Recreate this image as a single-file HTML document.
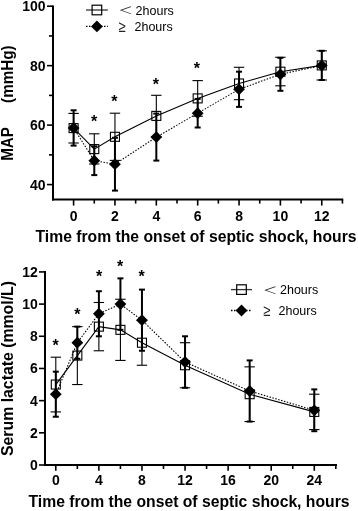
<!DOCTYPE html>
<html><head><meta charset="utf-8"><title>MAP and serum lactate</title>
<style>html,body{margin:0;padding:0;background:#fff;width:358px;height:511px;overflow:hidden}svg{display:block}</style>
</head><body>
<svg width="358" height="511" viewBox="0 0 358 511" font-family="&quot;Liberation Sans&quot;, Arial, Helvetica, sans-serif"><line x1="53.00" y1="5.40" x2="53.00" y2="200.40" stroke="#000" stroke-width="2.0" />
<line x1="52.00" y1="199.40" x2="343.20" y2="199.40" stroke="#000" stroke-width="2.0" />
<line x1="47.00" y1="6.20" x2="53.00" y2="6.20" stroke="#000" stroke-width="1.6" />
<text x="45.60" y="11.20" font-size="14" font-weight="bold" text-anchor="end" >100</text>
<line x1="47.00" y1="65.66" x2="53.00" y2="65.66" stroke="#000" stroke-width="1.6" />
<text x="45.60" y="70.66" font-size="14" font-weight="bold" text-anchor="end" >80</text>
<line x1="47.00" y1="125.12" x2="53.00" y2="125.12" stroke="#000" stroke-width="1.6" />
<text x="45.60" y="130.12" font-size="14" font-weight="bold" text-anchor="end" >60</text>
<line x1="47.00" y1="184.58" x2="53.00" y2="184.58" stroke="#000" stroke-width="1.6" />
<text x="45.60" y="189.58" font-size="14" font-weight="bold" text-anchor="end" >40</text>
<line x1="49.00" y1="35.93" x2="53.00" y2="35.93" stroke="#000" stroke-width="1.6" />
<line x1="49.00" y1="95.39" x2="53.00" y2="95.39" stroke="#000" stroke-width="1.6" />
<line x1="49.00" y1="154.85" x2="53.00" y2="154.85" stroke="#000" stroke-width="1.6" />
<line x1="73.60" y1="199.40" x2="73.60" y2="205.60" stroke="#000" stroke-width="1.6" />
<text x="73.60" y="220.60" font-size="14" font-weight="bold" text-anchor="middle" >0</text>
<line x1="94.28" y1="199.40" x2="94.28" y2="203.60" stroke="#000" stroke-width="1.6" />
<line x1="114.96" y1="199.40" x2="114.96" y2="205.60" stroke="#000" stroke-width="1.6" />
<text x="114.96" y="220.60" font-size="14" font-weight="bold" text-anchor="middle" >2</text>
<line x1="135.64" y1="199.40" x2="135.64" y2="203.60" stroke="#000" stroke-width="1.6" />
<line x1="156.32" y1="199.40" x2="156.32" y2="205.60" stroke="#000" stroke-width="1.6" />
<text x="156.32" y="220.60" font-size="14" font-weight="bold" text-anchor="middle" >4</text>
<line x1="177.00" y1="199.40" x2="177.00" y2="203.60" stroke="#000" stroke-width="1.6" />
<line x1="197.68" y1="199.40" x2="197.68" y2="205.60" stroke="#000" stroke-width="1.6" />
<text x="197.68" y="220.60" font-size="14" font-weight="bold" text-anchor="middle" >6</text>
<line x1="218.36" y1="199.40" x2="218.36" y2="203.60" stroke="#000" stroke-width="1.6" />
<line x1="239.04" y1="199.40" x2="239.04" y2="205.60" stroke="#000" stroke-width="1.6" />
<text x="239.04" y="220.60" font-size="14" font-weight="bold" text-anchor="middle" >8</text>
<line x1="259.72" y1="199.40" x2="259.72" y2="203.60" stroke="#000" stroke-width="1.6" />
<line x1="280.40" y1="199.40" x2="280.40" y2="205.60" stroke="#000" stroke-width="1.6" />
<text x="280.40" y="220.60" font-size="14" font-weight="bold" text-anchor="middle" >10</text>
<line x1="301.08" y1="199.40" x2="301.08" y2="203.60" stroke="#000" stroke-width="1.6" />
<line x1="321.76" y1="199.40" x2="321.76" y2="205.60" stroke="#000" stroke-width="1.6" />
<text x="321.76" y="220.60" font-size="14" font-weight="bold" text-anchor="middle" >12</text>
<line x1="342.44" y1="199.40" x2="342.44" y2="203.60" stroke="#000" stroke-width="1.6" />
<line x1="45.00" y1="271.12" x2="45.00" y2="466.00" stroke="#000" stroke-width="2.0" />
<line x1="44.00" y1="465.00" x2="337.00" y2="465.00" stroke="#000" stroke-width="2.0" />
<line x1="39.00" y1="465.00" x2="45.00" y2="465.00" stroke="#000" stroke-width="1.6" />
<text x="37.90" y="470.00" font-size="14" font-weight="bold" text-anchor="end" >0</text>
<line x1="39.00" y1="432.82" x2="45.00" y2="432.82" stroke="#000" stroke-width="1.6" />
<text x="37.90" y="437.82" font-size="14" font-weight="bold" text-anchor="end" >2</text>
<line x1="39.00" y1="400.64" x2="45.00" y2="400.64" stroke="#000" stroke-width="1.6" />
<text x="37.90" y="405.64" font-size="14" font-weight="bold" text-anchor="end" >4</text>
<line x1="39.00" y1="368.46" x2="45.00" y2="368.46" stroke="#000" stroke-width="1.6" />
<text x="37.90" y="373.46" font-size="14" font-weight="bold" text-anchor="end" >6</text>
<line x1="39.00" y1="336.28" x2="45.00" y2="336.28" stroke="#000" stroke-width="1.6" />
<text x="37.90" y="341.28" font-size="14" font-weight="bold" text-anchor="end" >8</text>
<line x1="39.00" y1="304.10" x2="45.00" y2="304.10" stroke="#000" stroke-width="1.6" />
<text x="37.90" y="309.10" font-size="14" font-weight="bold" text-anchor="end" >10</text>
<line x1="39.00" y1="271.92" x2="45.00" y2="271.92" stroke="#000" stroke-width="1.6" />
<text x="37.90" y="276.92" font-size="14" font-weight="bold" text-anchor="end" >12</text>
<line x1="55.80" y1="465.00" x2="55.80" y2="470.80" stroke="#000" stroke-width="1.6" />
<text x="55.80" y="485.10" font-size="14" font-weight="bold" text-anchor="middle" >0</text>
<line x1="77.34" y1="465.00" x2="77.34" y2="469.00" stroke="#000" stroke-width="1.6" />
<line x1="98.88" y1="465.00" x2="98.88" y2="470.80" stroke="#000" stroke-width="1.6" />
<text x="98.88" y="485.10" font-size="14" font-weight="bold" text-anchor="middle" >4</text>
<line x1="120.42" y1="465.00" x2="120.42" y2="469.00" stroke="#000" stroke-width="1.6" />
<line x1="141.96" y1="465.00" x2="141.96" y2="470.80" stroke="#000" stroke-width="1.6" />
<text x="141.96" y="485.10" font-size="14" font-weight="bold" text-anchor="middle" >8</text>
<line x1="163.50" y1="465.00" x2="163.50" y2="469.00" stroke="#000" stroke-width="1.6" />
<line x1="185.04" y1="465.00" x2="185.04" y2="470.80" stroke="#000" stroke-width="1.6" />
<text x="185.04" y="485.10" font-size="14" font-weight="bold" text-anchor="middle" >12</text>
<line x1="206.58" y1="465.00" x2="206.58" y2="469.00" stroke="#000" stroke-width="1.6" />
<line x1="228.12" y1="465.00" x2="228.12" y2="470.80" stroke="#000" stroke-width="1.6" />
<text x="228.12" y="485.10" font-size="14" font-weight="bold" text-anchor="middle" >16</text>
<line x1="249.66" y1="465.00" x2="249.66" y2="469.00" stroke="#000" stroke-width="1.6" />
<line x1="271.20" y1="465.00" x2="271.20" y2="470.80" stroke="#000" stroke-width="1.6" />
<text x="271.20" y="485.10" font-size="14" font-weight="bold" text-anchor="middle" >20</text>
<line x1="292.74" y1="465.00" x2="292.74" y2="469.00" stroke="#000" stroke-width="1.6" />
<line x1="314.28" y1="465.00" x2="314.28" y2="470.80" stroke="#000" stroke-width="1.6" />
<text x="314.28" y="485.10" font-size="14" font-weight="bold" text-anchor="middle" >24</text>
<line x1="335.82" y1="465.00" x2="335.82" y2="469.00" stroke="#000" stroke-width="1.6" />
<text x="35.50" y="241.50" font-size="15.6" font-weight="bold" text-anchor="start" textLength="321" lengthAdjust="spacingAndGlyphs">Time from the onset of septic shock, hours</text>
<text x="28.50" y="506.90" font-size="15.6" font-weight="bold" text-anchor="start" textLength="321" lengthAdjust="spacingAndGlyphs">Time from the onset of septic shock, hours</text>
<text transform="translate(12.9,160.8) rotate(-90) scale(1,1.07)" font-size="15.2" font-weight="bold">MAP</text>
<text transform="translate(12.9,102.9) rotate(-90) scale(1,1.07)" font-size="15.2" font-weight="bold">(mmHg)</text>
<text transform="translate(12.7,456.0) rotate(-90)" font-size="15.6" font-weight="bold" textLength="175" lengthAdjust="spacingAndGlyphs">Serum lactate (mmol/L)</text>
<path d="M73.60 128.10L94.28 149.10L114.96 136.80L156.32 115.90L197.68 98.40L239.04 83.50L280.40 71.70L321.76 65.40" fill="none" stroke="#000" stroke-width="1.1"/>
<path d="M73.60 128.00L94.28 160.70L114.96 164.20L156.32 137.10L197.68 113.20L239.04 89.30L280.40 74.30L321.76 65.50" fill="none" stroke="#000" stroke-width="1.1" stroke-dasharray="1.5 1.5"/>
<line x1="73.60" y1="113.40" x2="73.60" y2="143.00" stroke="#000" stroke-width="1.1" />
<line x1="68.40" y1="113.40" x2="78.80" y2="113.40" stroke="#000" stroke-width="1.1" />
<line x1="68.40" y1="143.00" x2="78.80" y2="143.00" stroke="#000" stroke-width="1.1" />
<line x1="94.28" y1="133.80" x2="94.28" y2="164.00" stroke="#000" stroke-width="1.1" />
<line x1="89.08" y1="133.80" x2="99.48" y2="133.80" stroke="#000" stroke-width="1.1" />
<line x1="89.08" y1="164.00" x2="99.48" y2="164.00" stroke="#000" stroke-width="1.1" />
<line x1="114.96" y1="113.20" x2="114.96" y2="160.40" stroke="#000" stroke-width="1.1" />
<line x1="109.76" y1="113.20" x2="120.16" y2="113.20" stroke="#000" stroke-width="1.1" />
<line x1="109.76" y1="160.40" x2="120.16" y2="160.40" stroke="#000" stroke-width="1.1" />
<line x1="156.32" y1="95.30" x2="156.32" y2="136.80" stroke="#000" stroke-width="1.1" />
<line x1="151.12" y1="95.30" x2="161.52" y2="95.30" stroke="#000" stroke-width="1.1" />
<line x1="151.12" y1="136.80" x2="161.52" y2="136.80" stroke="#000" stroke-width="1.1" />
<line x1="197.68" y1="80.60" x2="197.68" y2="116.20" stroke="#000" stroke-width="1.1" />
<line x1="192.48" y1="80.60" x2="202.88" y2="80.60" stroke="#000" stroke-width="1.1" />
<line x1="192.48" y1="116.20" x2="202.88" y2="116.20" stroke="#000" stroke-width="1.1" />
<line x1="239.04" y1="67.30" x2="239.04" y2="99.70" stroke="#000" stroke-width="1.1" />
<line x1="233.84" y1="67.30" x2="244.24" y2="67.30" stroke="#000" stroke-width="1.1" />
<line x1="233.84" y1="99.70" x2="244.24" y2="99.70" stroke="#000" stroke-width="1.1" />
<line x1="280.40" y1="57.30" x2="280.40" y2="85.80" stroke="#000" stroke-width="1.1" />
<line x1="275.20" y1="57.30" x2="285.60" y2="57.30" stroke="#000" stroke-width="1.1" />
<line x1="275.20" y1="85.80" x2="285.60" y2="85.80" stroke="#000" stroke-width="1.1" />
<line x1="321.76" y1="50.80" x2="321.76" y2="80.00" stroke="#000" stroke-width="1.1" />
<line x1="316.56" y1="50.80" x2="326.96" y2="50.80" stroke="#000" stroke-width="1.1" />
<line x1="316.56" y1="80.00" x2="326.96" y2="80.00" stroke="#000" stroke-width="1.1" />
<line x1="73.60" y1="110.30" x2="73.60" y2="145.60" stroke="#000" stroke-width="2.0" />
<line x1="70.60" y1="110.30" x2="76.60" y2="110.30" stroke="#000" stroke-width="2.0" />
<line x1="70.60" y1="145.60" x2="76.60" y2="145.60" stroke="#000" stroke-width="2.0" />
<line x1="94.28" y1="146.30" x2="94.28" y2="175.10" stroke="#000" stroke-width="2.0" />
<line x1="91.28" y1="146.30" x2="97.28" y2="146.30" stroke="#000" stroke-width="2.0" />
<line x1="91.28" y1="175.10" x2="97.28" y2="175.10" stroke="#000" stroke-width="2.0" />
<line x1="114.96" y1="137.80" x2="114.96" y2="190.60" stroke="#000" stroke-width="2.0" />
<line x1="111.96" y1="137.80" x2="117.96" y2="137.80" stroke="#000" stroke-width="2.0" />
<line x1="111.96" y1="190.60" x2="117.96" y2="190.60" stroke="#000" stroke-width="2.0" />
<line x1="156.32" y1="113.60" x2="156.32" y2="160.60" stroke="#000" stroke-width="2.0" />
<line x1="153.32" y1="113.60" x2="159.32" y2="113.60" stroke="#000" stroke-width="2.0" />
<line x1="153.32" y1="160.60" x2="159.32" y2="160.60" stroke="#000" stroke-width="2.0" />
<line x1="197.68" y1="98.90" x2="197.68" y2="127.50" stroke="#000" stroke-width="2.0" />
<line x1="194.68" y1="98.90" x2="200.68" y2="98.90" stroke="#000" stroke-width="2.0" />
<line x1="194.68" y1="127.50" x2="200.68" y2="127.50" stroke="#000" stroke-width="2.0" />
<line x1="239.04" y1="71.70" x2="239.04" y2="106.90" stroke="#000" stroke-width="2.0" />
<line x1="236.04" y1="71.70" x2="242.04" y2="71.70" stroke="#000" stroke-width="2.0" />
<line x1="236.04" y1="106.90" x2="242.04" y2="106.90" stroke="#000" stroke-width="2.0" />
<line x1="280.40" y1="57.80" x2="280.40" y2="90.80" stroke="#000" stroke-width="2.0" />
<line x1="277.40" y1="57.80" x2="283.40" y2="57.80" stroke="#000" stroke-width="2.0" />
<line x1="277.40" y1="90.80" x2="283.40" y2="90.80" stroke="#000" stroke-width="2.0" />
<line x1="321.76" y1="50.80" x2="321.76" y2="80.00" stroke="#000" stroke-width="2.0" />
<line x1="318.76" y1="50.80" x2="324.76" y2="50.80" stroke="#000" stroke-width="2.0" />
<line x1="318.76" y1="80.00" x2="324.76" y2="80.00" stroke="#000" stroke-width="2.0" />
<rect x="69.10" y="123.60" width="9.0" height="9.0" fill="none" stroke="#000" stroke-width="1.1"/>
<rect x="89.78" y="144.60" width="9.0" height="9.0" fill="none" stroke="#000" stroke-width="1.1"/>
<rect x="110.46" y="132.30" width="9.0" height="9.0" fill="none" stroke="#000" stroke-width="1.1"/>
<rect x="151.82" y="111.40" width="9.0" height="9.0" fill="none" stroke="#000" stroke-width="1.1"/>
<rect x="193.18" y="93.90" width="9.0" height="9.0" fill="none" stroke="#000" stroke-width="1.1"/>
<rect x="234.54" y="79.00" width="9.0" height="9.0" fill="none" stroke="#000" stroke-width="1.1"/>
<rect x="275.90" y="67.20" width="9.0" height="9.0" fill="none" stroke="#000" stroke-width="1.1"/>
<rect x="317.26" y="60.90" width="9.0" height="9.0" fill="none" stroke="#000" stroke-width="1.1"/>
<path d="M73.60 122.10L79.50 128.00L73.60 133.90L67.70 128.00Z" fill="#000"/>
<path d="M94.28 154.80L100.18 160.70L94.28 166.60L88.38 160.70Z" fill="#000"/>
<path d="M114.96 158.30L120.86 164.20L114.96 170.10L109.06 164.20Z" fill="#000"/>
<path d="M156.32 131.20L162.22 137.10L156.32 143.00L150.42 137.10Z" fill="#000"/>
<path d="M197.68 107.30L203.58 113.20L197.68 119.10L191.78 113.20Z" fill="#000"/>
<path d="M239.04 83.40L244.94 89.30L239.04 95.20L233.14 89.30Z" fill="#000"/>
<path d="M280.40 68.40L286.30 74.30L280.40 80.20L274.50 74.30Z" fill="#000"/>
<path d="M321.76 59.60L327.66 65.50L321.76 71.40L315.86 65.50Z" fill="#000"/>
<path d="M55.80 384.55L77.34 355.59L98.88 326.63L120.42 329.84L141.96 342.72L185.04 365.24L249.66 394.20L314.28 411.90" fill="none" stroke="#000" stroke-width="1.1"/>
<path d="M55.80 394.20L77.34 342.72L98.88 313.75L120.42 304.10L141.96 320.19L185.04 362.02L249.66 390.99L314.28 410.29" fill="none" stroke="#000" stroke-width="1.1" stroke-dasharray="1.5 1.5"/>
<line x1="55.80" y1="357.20" x2="55.80" y2="411.90" stroke="#000" stroke-width="1.1" />
<line x1="50.60" y1="357.20" x2="61.00" y2="357.20" stroke="#000" stroke-width="1.1" />
<line x1="50.60" y1="411.90" x2="61.00" y2="411.90" stroke="#000" stroke-width="1.1" />
<line x1="77.34" y1="326.63" x2="77.34" y2="384.55" stroke="#000" stroke-width="1.1" />
<line x1="72.14" y1="326.63" x2="82.54" y2="326.63" stroke="#000" stroke-width="1.1" />
<line x1="72.14" y1="384.55" x2="82.54" y2="384.55" stroke="#000" stroke-width="1.1" />
<line x1="98.88" y1="302.49" x2="98.88" y2="350.76" stroke="#000" stroke-width="1.1" />
<line x1="93.68" y1="302.49" x2="104.08" y2="302.49" stroke="#000" stroke-width="1.1" />
<line x1="93.68" y1="350.76" x2="104.08" y2="350.76" stroke="#000" stroke-width="1.1" />
<line x1="120.42" y1="299.27" x2="120.42" y2="360.42" stroke="#000" stroke-width="1.1" />
<line x1="115.22" y1="299.27" x2="125.62" y2="299.27" stroke="#000" stroke-width="1.1" />
<line x1="115.22" y1="360.42" x2="125.62" y2="360.42" stroke="#000" stroke-width="1.1" />
<line x1="141.96" y1="320.19" x2="141.96" y2="365.24" stroke="#000" stroke-width="1.1" />
<line x1="136.76" y1="320.19" x2="147.16" y2="320.19" stroke="#000" stroke-width="1.1" />
<line x1="136.76" y1="365.24" x2="147.16" y2="365.24" stroke="#000" stroke-width="1.1" />
<line x1="185.04" y1="342.72" x2="185.04" y2="387.77" stroke="#000" stroke-width="1.1" />
<line x1="179.84" y1="342.72" x2="190.24" y2="342.72" stroke="#000" stroke-width="1.1" />
<line x1="179.84" y1="387.77" x2="190.24" y2="387.77" stroke="#000" stroke-width="1.1" />
<line x1="249.66" y1="366.85" x2="249.66" y2="421.56" stroke="#000" stroke-width="1.1" />
<line x1="244.46" y1="366.85" x2="254.86" y2="366.85" stroke="#000" stroke-width="1.1" />
<line x1="244.46" y1="421.56" x2="254.86" y2="421.56" stroke="#000" stroke-width="1.1" />
<line x1="314.28" y1="394.20" x2="314.28" y2="429.60" stroke="#000" stroke-width="1.1" />
<line x1="309.08" y1="394.20" x2="319.48" y2="394.20" stroke="#000" stroke-width="1.1" />
<line x1="309.08" y1="429.60" x2="319.48" y2="429.60" stroke="#000" stroke-width="1.1" />
<line x1="55.80" y1="371.68" x2="55.80" y2="416.73" stroke="#000" stroke-width="2.0" />
<line x1="52.80" y1="371.68" x2="58.80" y2="371.68" stroke="#000" stroke-width="2.0" />
<line x1="52.80" y1="416.73" x2="58.80" y2="416.73" stroke="#000" stroke-width="2.0" />
<line x1="77.34" y1="326.63" x2="77.34" y2="358.81" stroke="#000" stroke-width="2.0" />
<line x1="74.34" y1="326.63" x2="80.34" y2="326.63" stroke="#000" stroke-width="2.0" />
<line x1="74.34" y1="358.81" x2="80.34" y2="358.81" stroke="#000" stroke-width="2.0" />
<line x1="98.88" y1="291.23" x2="98.88" y2="336.28" stroke="#000" stroke-width="2.0" />
<line x1="95.88" y1="291.23" x2="101.88" y2="291.23" stroke="#000" stroke-width="2.0" />
<line x1="95.88" y1="336.28" x2="101.88" y2="336.28" stroke="#000" stroke-width="2.0" />
<line x1="120.42" y1="278.36" x2="120.42" y2="329.84" stroke="#000" stroke-width="2.0" />
<line x1="117.42" y1="278.36" x2="123.42" y2="278.36" stroke="#000" stroke-width="2.0" />
<line x1="117.42" y1="329.84" x2="123.42" y2="329.84" stroke="#000" stroke-width="2.0" />
<line x1="141.96" y1="289.62" x2="141.96" y2="350.76" stroke="#000" stroke-width="2.0" />
<line x1="138.96" y1="289.62" x2="144.96" y2="289.62" stroke="#000" stroke-width="2.0" />
<line x1="138.96" y1="350.76" x2="144.96" y2="350.76" stroke="#000" stroke-width="2.0" />
<line x1="185.04" y1="336.28" x2="185.04" y2="387.77" stroke="#000" stroke-width="2.0" />
<line x1="182.04" y1="336.28" x2="188.04" y2="336.28" stroke="#000" stroke-width="2.0" />
<line x1="182.04" y1="387.77" x2="188.04" y2="387.77" stroke="#000" stroke-width="2.0" />
<line x1="249.66" y1="360.42" x2="249.66" y2="421.56" stroke="#000" stroke-width="2.0" />
<line x1="246.66" y1="360.42" x2="252.66" y2="360.42" stroke="#000" stroke-width="2.0" />
<line x1="246.66" y1="421.56" x2="252.66" y2="421.56" stroke="#000" stroke-width="2.0" />
<line x1="314.28" y1="389.38" x2="314.28" y2="431.21" stroke="#000" stroke-width="2.0" />
<line x1="311.28" y1="389.38" x2="317.28" y2="389.38" stroke="#000" stroke-width="2.0" />
<line x1="311.28" y1="431.21" x2="317.28" y2="431.21" stroke="#000" stroke-width="2.0" />
<rect x="51.30" y="380.05" width="9.0" height="9.0" fill="none" stroke="#000" stroke-width="1.1"/>
<rect x="72.84" y="351.09" width="9.0" height="9.0" fill="none" stroke="#000" stroke-width="1.1"/>
<rect x="94.38" y="322.13" width="9.0" height="9.0" fill="none" stroke="#000" stroke-width="1.1"/>
<rect x="115.92" y="325.34" width="9.0" height="9.0" fill="none" stroke="#000" stroke-width="1.1"/>
<rect x="137.46" y="338.22" width="9.0" height="9.0" fill="none" stroke="#000" stroke-width="1.1"/>
<rect x="180.54" y="360.74" width="9.0" height="9.0" fill="none" stroke="#000" stroke-width="1.1"/>
<rect x="245.16" y="389.70" width="9.0" height="9.0" fill="none" stroke="#000" stroke-width="1.1"/>
<rect x="309.78" y="407.40" width="9.0" height="9.0" fill="none" stroke="#000" stroke-width="1.1"/>
<path d="M55.80 388.30L61.70 394.20L55.80 400.10L49.90 394.20Z" fill="#000"/>
<path d="M77.34 336.82L83.24 342.72L77.34 348.62L71.44 342.72Z" fill="#000"/>
<path d="M98.88 307.85L104.78 313.75L98.88 319.65L92.98 313.75Z" fill="#000"/>
<path d="M120.42 298.20L126.32 304.10L120.42 310.00L114.52 304.10Z" fill="#000"/>
<path d="M141.96 314.29L147.86 320.19L141.96 326.09L136.06 320.19Z" fill="#000"/>
<path d="M185.04 356.12L190.94 362.02L185.04 367.92L179.14 362.02Z" fill="#000"/>
<path d="M249.66 385.09L255.56 390.99L249.66 396.89L243.76 390.99Z" fill="#000"/>
<path d="M314.28 404.39L320.18 410.29L314.28 416.19L308.38 410.29Z" fill="#000"/>
<text x="94.20" y="127.20" font-size="16" font-weight="bold" text-anchor="middle">*</text>
<text x="114.30" y="107.10" font-size="16" font-weight="bold" text-anchor="middle">*</text>
<text x="155.80" y="89.90" font-size="16" font-weight="bold" text-anchor="middle">*</text>
<text x="196.90" y="73.80" font-size="16" font-weight="bold" text-anchor="middle">*</text>
<text x="55.50" y="351.40" font-size="16" font-weight="bold" text-anchor="middle">*</text>
<text x="77.40" y="319.70" font-size="16" font-weight="bold" text-anchor="middle">*</text>
<text x="99.00" y="281.70" font-size="16" font-weight="bold" text-anchor="middle">*</text>
<text x="120.10" y="271.50" font-size="16" font-weight="bold" text-anchor="middle">*</text>
<text x="141.70" y="281.70" font-size="16" font-weight="bold" text-anchor="middle">*</text>
<line x1="86.00" y1="10.00" x2="107.80" y2="10.00" stroke="#333" stroke-width="1.3" />
<rect x="92.10" y="5.20" width="9.6" height="9.6" fill="none" stroke="#000" stroke-width="1.2"/>
<text transform="translate(118.40,14.30) scale(1.15,0.8)" font-size="12.5" font-weight="normal" fill="#333" font-family="&quot;Liberation Sans&quot;, &quot;Noto Sans CJK SC&quot;, sans-serif">＜</text>
<text x="135.60" y="14.70" font-size="12.5" font-weight="normal" text-anchor="start" >2hours</text>
<line x1="86.00" y1="26.40" x2="107.80" y2="26.40" stroke="#000" stroke-width="1.3" stroke-dasharray="1.5 1.5"/>
<path d="M96.90 20.50L102.80 26.40L96.90 32.30L91.00 26.40Z" fill="#000"/>
<text transform="translate(118.80,31.80) scale(1,1.25)" font-size="13" font-weight="normal" fill="#222">≥</text>
<text x="134.50" y="31.10" font-size="12.5" font-weight="normal" text-anchor="start" >2hours</text>
<line x1="231.00" y1="289.60" x2="252.00" y2="289.60" stroke="#333" stroke-width="1.3" />
<rect x="236.70" y="284.80" width="9.6" height="9.6" fill="none" stroke="#000" stroke-width="1.2"/>
<text transform="translate(263.10,293.90) scale(1.15,0.8)" font-size="12.5" font-weight="normal" fill="#333" font-family="&quot;Liberation Sans&quot;, &quot;Noto Sans CJK SC&quot;, sans-serif">＜</text>
<text x="280.00" y="294.30" font-size="12.5" font-weight="normal" text-anchor="start" >2hours</text>
<line x1="231.00" y1="310.50" x2="252.00" y2="310.50" stroke="#000" stroke-width="1.3" stroke-dasharray="1.5 1.5"/>
<path d="M241.50 304.60L247.40 310.50L241.50 316.40L235.60 310.50Z" fill="#000"/>
<text transform="translate(263.40,315.90) scale(1,1.25)" font-size="13" font-weight="normal" fill="#222">≥</text>
<text x="278.50" y="315.20" font-size="12.5" font-weight="normal" text-anchor="start" >2hours</text></svg>
</body></html>
